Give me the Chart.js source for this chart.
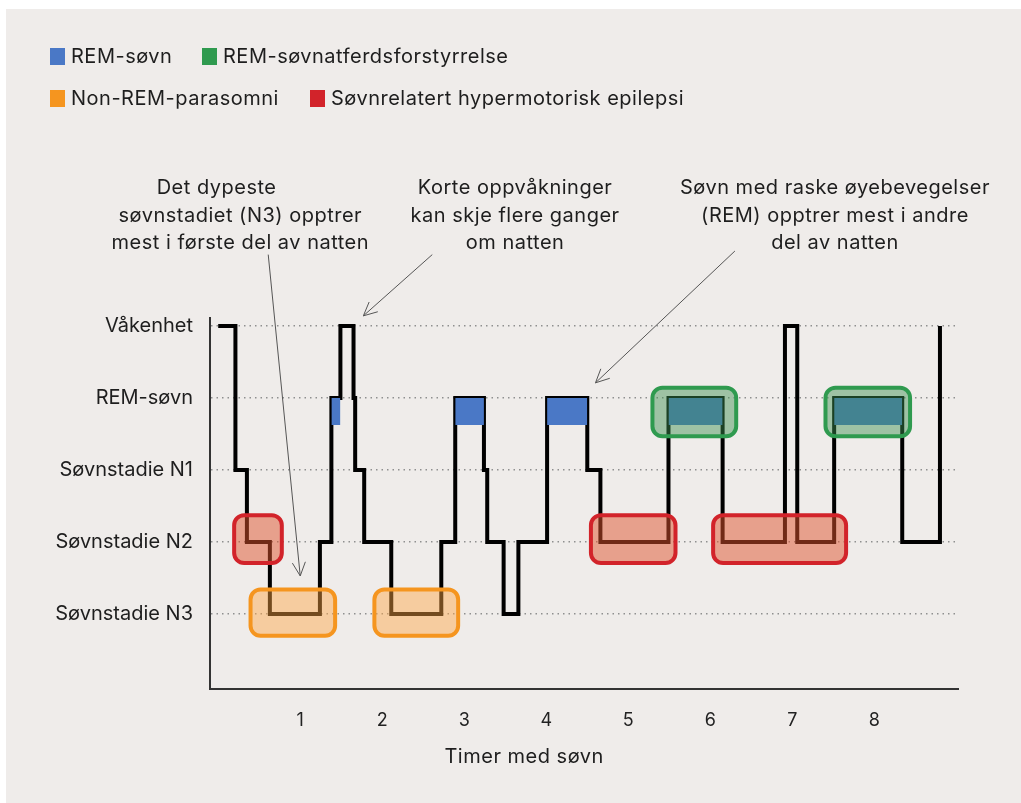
<!DOCTYPE html>
<html>
<head>
<meta charset="utf-8">
<script src="https://cdn.jsdelivr.net/npm/chart.js@4.4.1/dist/chart.umd.min.js"></script>
<style>
  html, body { margin: 0; padding: 0; background: #fff; }
  body { width: 1021px; height: 803px; position: relative; overflow: hidden; font-family: Inter, 'Noto Sans', sans-serif; }
  #panel { position: absolute; left: 6px; top: 9px; right: 0; bottom: 0; background: #efecea; }
  #chart { position: absolute; left: 0; top: 0; }
  .legend-item { position: absolute; font-size: 20px; letter-spacing: 0.5px; color: #1e1e1e; line-height: 20px; white-space: nowrap; }
  .legend-item i { display: inline-block; width: 15px; height: 17px; vertical-align: -2px; margin-right: 6px; }
</style>
</head>
<body>
<div id="panel"></div>
<canvas id="chart" width="1021" height="803"></canvas>
<div id="legend"></div>
<script>
// sleep stages on the y axis (index = level)
const levelLabels = ['', 'Søvnstadie N3', 'Søvnstadie N2', 'Søvnstadie N1', 'REM-søvn', 'Våkenhet']
const levelTicks = [1, 2, 3, 4, 5]
const hourTicks = [1, 2, 3, 4, 5, 6, 7, 8]

// hypnogram: stage changes (hours) and the stage held from that time
const stageTimes  = [0, 0.21, 0.35, 0.63, 1.24, 1.38, 1.49, 1.65, 1.67, 1.78, 2.11, 2.72, 2.89, 3.24, 3.28, 3.48, 3.66, 4.01, 4.50, 4.66, 5.49, 6.15, 6.91, 7.06, 7.51, 8.34, 8.80]
const stageLevels = [5,    3,    2,    1,    2,    4,    5,    4,    3,    2,    1,    2,    4,    3,    2,    1,    2,    4,    3,    2,    4,    2,    5,    2,    4,    2,    5]

// REM periods (blue)
const remStart = [1.38, 2.89, 4.01, 5.49, 7.51]
const remEnd   = [1.49, 3.24, 4.50, 6.15, 8.34]

// highlighted disorder periods
const boxKind  = ['epi', 'epi', 'epi', 'nrem', 'nrem', 'rbd', 'rbd']
const boxStart = [0.17, 4.52, 6.01, 0.37, 1.88, 5.27, 7.38]
const boxEnd   = [0.80, 5.60, 7.68, 1.45, 2.95, 6.34, 8.46]
const boxLow   = [1.68, 1.68, 1.68, 0.67, 0.67, 3.44, 3.44]
const boxHigh  = [2.40, 2.40, 2.40, 1.37, 1.37, 4.17, 4.17]

const legendNames = ['REM-søvn', 'REM-søvnatferdsforstyrrelse', 'Non-REM-parasomni', 'Søvnrelatert hypermotorisk epilepsi']

// notes above the chart (x in hours, y in stage units)
const noteLines = [
  ['Det dypeste', 'søvnstadiet (N3) opptrer', 'mest i første del av natten'],
  ['Korte oppvåkninger', 'kan skje flere ganger', 'om natten'],
  ['Søvn med raske øyebevegelser', '(REM) opptrer mest i andre', 'del av natten']
]
const noteX = [[-0.02, 0.27, 0.27], [3.62, 3.62, 3.62], [7.52, 7.52, 7.52]]
const noteY = [6.92, 6.53, 6.15]
const arrowFrom = [[0.61, 5.99], [2.61, 5.99], [6.30, 6.04]]
const arrowTo   = [[1.00, 1.53], [1.77, 5.14], [4.60, 4.21]]

const COLORS = {
  rem: '#4a78c6',
  epi: {stroke: '#d2232a', fill: 'rgba(223,83,45,0.5)'},
  nrem: {stroke: '#f5951f', fill: 'rgba(255,166,68,0.45)'},
  rbd: {stroke: '#2f9a4f', fill: 'rgba(60,145,80,0.45)'}
}
const FONT = 'Inter, "Noto Sans", sans-serif'

// html legend
const legendPos = [[50, 46, COLORS.rem], [202, 46, COLORS.rbd.stroke], [50, 88, COLORS.nrem.stroke], [310, 88, COLORS.epi.stroke]]
document.getElementById('legend').innerHTML = legendNames.map((n, i) =>
  `<div class="legend-item" style="left:${legendPos[i][0]}px;top:${legendPos[i][1]}px"><i style="background:${legendPos[i][2]}"></i>${n}</div>`).join('')

function roundRect(ctx, x, y, w, h, r) {
  ctx.beginPath()
  ctx.moveTo(x + r, y)
  ctx.arcTo(x + w, y, x + w, y + h, r)
  ctx.arcTo(x + w, y + h, x, y + h, r)
  ctx.arcTo(x, y + h, x, y, r)
  ctx.arcTo(x, y, x + w, y, r)
  ctx.closePath()
}

const overlays = {
  id: 'overlays',
  afterDatasetsDraw(chart) {
    const {ctx, scales: {x, y}} = chart
    ctx.save()
    // disorder boxes
    boxKind.forEach((k, i) => {
      const x0 = x.getPixelForValue(boxStart[i]) + 2
      const x1 = x.getPixelForValue(boxEnd[i]) - 2
      const y0 = y.getPixelForValue(boxHigh[i]) + 2
      const y1 = y.getPixelForValue(boxLow[i]) - 2
      roundRect(ctx, x0, y0, x1 - x0, y1 - y0, 10)
      ctx.fillStyle = COLORS[k].fill
      ctx.fill()
      ctx.lineWidth = 4
      ctx.strokeStyle = COLORS[k].stroke
      ctx.stroke()
    })
    // arrows
    ctx.strokeStyle = '#555'
    ctx.lineWidth = 1
    arrowFrom.forEach((f, i) => {
      const ax = x.getPixelForValue(f[0]), ay = y.getPixelForValue(f[1])
      const bx = x.getPixelForValue(arrowTo[i][0]), by = y.getPixelForValue(arrowTo[i][1])
      const ang = Math.atan2(by - ay, bx - ax)
      ctx.beginPath()
      ctx.moveTo(ax, ay)
      ctx.lineTo(bx, by)
      for (const s of [-1, 1]) {
        ctx.moveTo(bx, by)
        ctx.lineTo(bx - 15 * Math.cos(ang + s * 0.45), by - 15 * Math.sin(ang + s * 0.45))
      }
      ctx.stroke()
    })
    // notes
    ctx.fillStyle = '#1e1e1e'
    ctx.font = '20px ' + FONT
    ctx.letterSpacing = '0.5px'
    ctx.textAlign = 'center'
    ctx.textBaseline = 'middle'
    noteLines.forEach((lines, i) => {
      lines.forEach((t, j) => {
        ctx.fillText(t, x.getPixelForValue(noteX[i][j]), y.getPixelForValue(noteY[j]))
      })
    })
    // x axis title
    ctx.fillText('Timer med søvn', x.getPixelForValue(3.73), x.bottom - 46)
    ctx.restore()
  }
}

const datasets = remStart.map((s, i) => ({
  data: [{x: s, y: 4}, {x: remEnd[i], y: 4}],
  fill: {value: 3.625},
  backgroundColor: COLORS.rem,
  borderWidth: 0,
  pointRadius: 0
}))
datasets.push({
  data: stageTimes.map((t, i) => ({x: t, y: stageLevels[i]})),
  stepped: 'before',
  borderColor: '#000',
  borderWidth: 4,
  borderJoinStyle: 'miter',
  pointRadius: 0,
  fill: false,
  clip: false
})

new Chart(document.getElementById('chart'), {
  type: 'line',
  data: {datasets},
  plugins: [overlays],
  options: {
    responsive: false,
    animation: false,
    layout: {padding: {top: 318, right: 63, left: 0, bottom: 0}},
    plugins: {legend: {display: false}, tooltip: {enabled: false}},
    scales: {
      x: {
        type: 'linear', min: -0.1, max: 9.02,
        afterFit: (s) => { s.height = 114 },
        afterBuildTicks: (s) => { s.ticks = hourTicks.map(v => ({value: v})) },
        grid: {display: false},
        border: {display: true, color: '#333', width: 2},
        ticks: {padding: 13, color: '#222', font: {family: FONT, size: 18}, callback: (v) => v}
      },
      y: {
        type: 'linear', min: -0.04, max: 5.11,
        afterFit: (s) => { s.width = 210 },
        afterBuildTicks: (s) => { s.ticks = levelTicks.map(v => ({value: v})) },
        grid: {color: '#8f8f8f', lineWidth: 1.5, drawTicks: false},
        border: {display: true, color: '#333', width: 2, dash: [1.5, 4]},
        ticks: {padding: 17, color: '#1e1e1e', font: {family: FONT, size: 20}, callback: (v) => levelLabels[v]}
      }
    }
  }
})
</script>
</body>
</html>
